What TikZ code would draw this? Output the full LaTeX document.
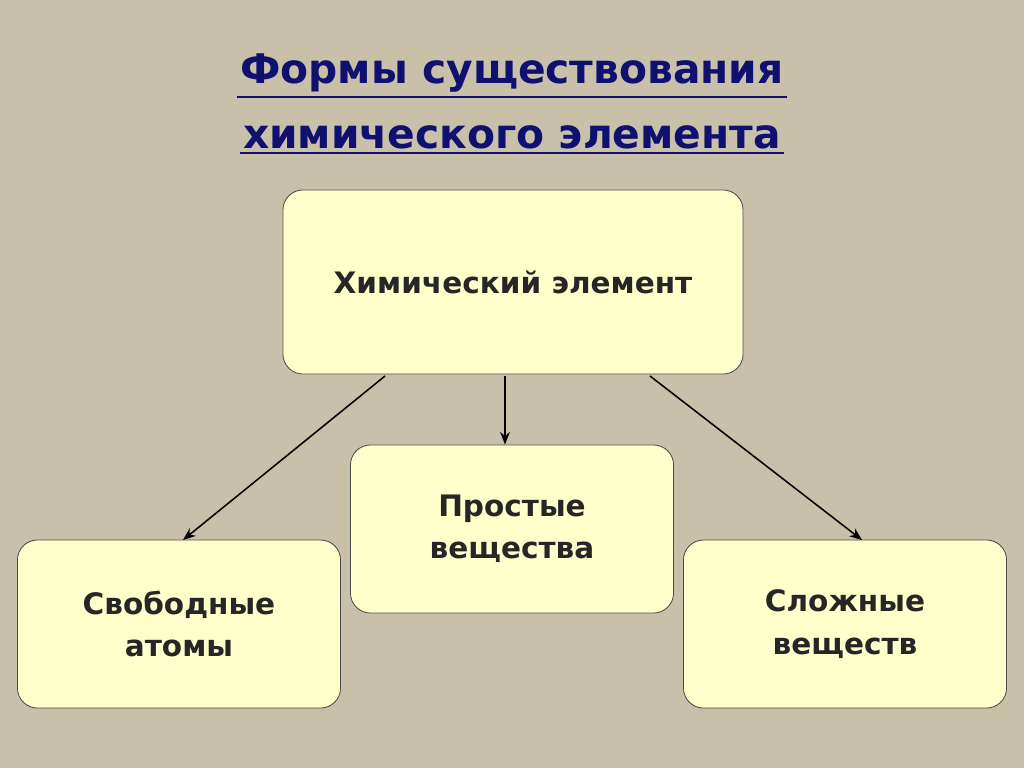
\documentclass[tikz,border=0pt]{standalone}
\usepackage{fontspec}
\setmainfont{DejaVu Sans}
\usetikzlibrary{arrows.meta}
\begin{document}
\begin{tikzpicture}[x=0.025cm, y=-0.025cm]
    \definecolor{bgbeige}{HTML}{C9C0AA}
    \definecolor{boxfill}{HTML}{FFFFCC}
    \definecolor{titleblue}{HTML}{0F1070}
    \tikzset{formbox/.style={draw=black!70, fill=boxfill, rounded corners=0.5cm,
            line width=0.6pt, font=\fontsize{21}{30}\selectfont\bfseries,
            align=center, text=black!85},
        sidebox/.style={formbox, minimum width=8.075cm, minimum height=4.2cm},
        formarrow/.style={-{Stealth[length=9pt,width=7pt]}, line width=1.1pt},
        titleline/.style={font=\fontsize{29}{34}\selectfont\bfseries,
            text=titleblue, inner sep=2pt}
    }
    \useasboundingbox (0,0) rectangle (1024,768);
    \fill[bgbeige] (0,0) rectangle (1024,768);
    % title
    \node [titleline] (t1) at (512,73) {Формы существования};
    \node [titleline] (t2) at (512,137) {химического элемента};
    \draw [titleblue, line width=1.6pt] ([yshift=-1pt]t1.south west) -- ([yshift=-1pt]t1.south east);
    \draw [titleblue, line width=1.6pt] ([yshift=-1pt]t2.south west) -- ([yshift=-1pt]t2.south east);
    % boxes
    \node [formbox, minimum width=11.5cm, minimum height=4.6cm] (elem) at (513,282) {Химический элемент};
    \node [sidebox] (simple) at (512,529) {Простые\\вещества};
    \node [sidebox] (atoms) at (179,624) {Свободные\\атомы};
    \node [sidebox] (complex) at (845,624) {Сложные\\веществ};
    % connectors
    \coordinate (a1) at (385,376);
    \coordinate (a2) at (505,376);
    \coordinate (a3) at (650,376);
    \draw [formarrow] (a1) -- (183,540);
    \draw [formarrow] (a2) -- (simple.north -| a2);
    \draw [formarrow] (a3) -- (862,540);
\end{tikzpicture}
\end{document}
